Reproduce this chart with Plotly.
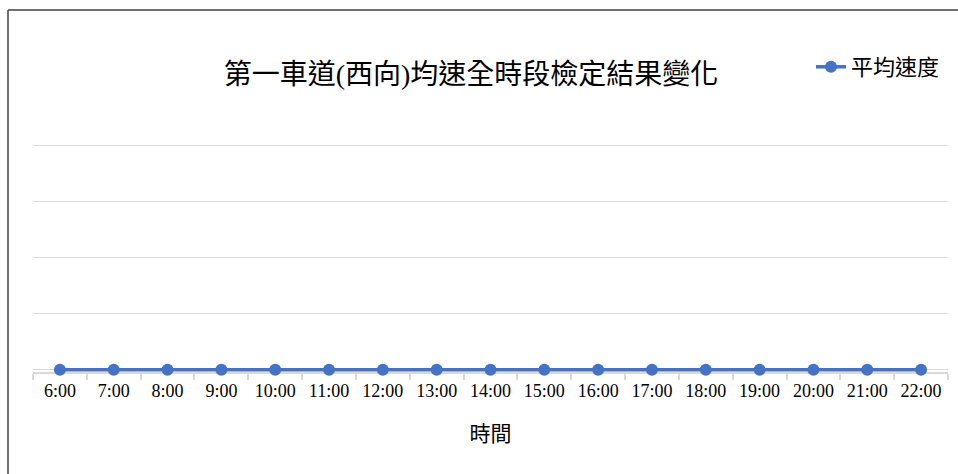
import plotly.graph_objects as go

# Hourly time slots and the average speed recorded for each
hours = ["6:00", "7:00", "8:00", "9:00", "10:00", "11:00", "12:00", "13:00", "14:00",
         "15:00", "16:00", "17:00", "18:00", "19:00", "20:00", "21:00", "22:00"]
avg_speed = [0, 0, 0, 0, 0, 0, 0, 0, 0, 0, 0, 0, 0, 0, 0, 0, 0]

title_text = "第一車道(西向)均速全時段檢定結果變化"
series_name = "平均速度"
x_title = "時間"

W, H = 958, 474
Y_BOT, Y_TOP = -0.04, 4.03
UNIT = 56  # pixels per y unit
ML, MR = 33, 10
AXIS_Y = 372  # pixel row of the category axis
MB = H - AXIS_Y
MT = H - MB - round(UNIT * (Y_TOP - Y_BOT))
PW = W - ML - MR
PH = H - MT - MB

FONT = "Liberation Serif, Noto Sans CJK TC, serif"
BLUE = "#4472C4"
GRID = "#d9d9d9"


def px_x(px):
    return (px - ML) / PW


def px_y(py):
    return (H - MB - py) / PH


fig = go.Figure()
fig.add_trace(go.Scatter(
    x=hours, y=avg_speed, name=series_name, mode="lines+markers",
    line=dict(color=BLUE, width=3.5),
    marker=dict(color=BLUE, size=12),
    cliponaxis=False,
))

# chart frame: top and left edges
frame = dict(type="line", xref="paper", yref="paper", line=dict(color="#404040", width=1.5))
fig.add_shape(x0=px_x(8), x1=px_x(960), y0=px_y(10), y1=px_y(10), **frame)
fig.add_shape(x0=px_x(8), x1=px_x(8), y0=px_y(10), y1=px_y(476), **frame)

fig.update_layout(
    width=W, height=H,
    margin=dict(l=ML, r=MR, t=MT, b=MB),
    paper_bgcolor="white", plot_bgcolor="white",
    font=dict(family=FONT, color="#000000"),
    title=dict(text=title_text, x=471 / W, xanchor="center",
               y=1 - 74 / H, yanchor="middle",
               font=dict(size=28, family=FONT, color="#000000")),
    showlegend=True,
    legend=dict(x=px_x(811), xanchor="left", y=px_y(67), yanchor="middle",
                font=dict(size=22, family=FONT, color="#000000"),
                bgcolor="rgba(0,0,0,0)", itemwidth=30),
    xaxis=dict(
        type="category", showgrid=False, showline=True, linecolor=GRID, linewidth=1.5,
        layer="below traces",
        ticks="outside", tickson="boundaries", ticklen=6, tickcolor=GRID, tickwidth=1.5,
        ticklabelstandoff=2,
        tickfont=dict(size=18, family=FONT, color="#000000"),
        title=dict(text=x_title, font=dict(size=21, family=FONT, color="#000000"), standoff=26),
        range=[-0.5, len(hours) - 0.5],
    ),
    yaxis=dict(
        range=[Y_BOT, Y_TOP], tick0=0, dtick=1, showgrid=True, gridcolor=GRID, gridwidth=1.2,
        zeroline=False, showticklabels=False, ticks="", showline=False,
        layer="below traces",
    ),
)

fig.write_html("out.html")
